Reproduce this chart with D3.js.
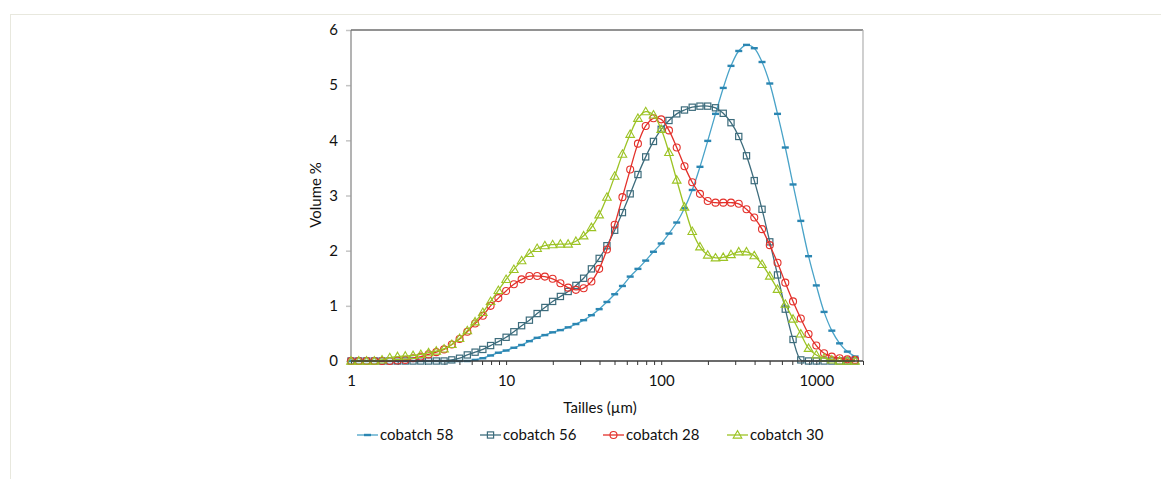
<!DOCTYPE html>
<html><head><meta charset="utf-8">
<script src="https://cdn.jsdelivr.net/npm/d3@7"></script>
<style>
html,body{margin:0;padding:0;background:#fff;}
text{font-family:Lato,"Open Sans",sans-serif;fill:#111;}
</style></head>
<body><svg id="c" width="1161" height="479"></svg>
<script>
const sizes = [1.000,1.122,1.259,1.413,1.585,1.778,1.995,2.239,2.512,2.818,3.162,3.548,3.981,4.467,5.012,5.623,6.310,7.079,7.943,8.913,
10.00,11.22,12.59,14.13,15.85,17.78,19.95,22.39,25.12,28.18,31.62,35.48,39.81,44.67,50.12,56.23,63.10,70.79,79.43,89.13,
100.0,112.2,125.9,141.3,158.5,177.8,199.5,223.9,251.2,281.8,316.2,354.8,398.1,446.7,501.2,562.3,631.0,707.9,794.3,891.3,
1000,1122,1259,1413,1585,1778];

const cobatch58 = [0,0,0,0,0,0,0,0,0,0,0,0,0,0,0,0,0.02,0.05,0.10,0.15,
0.19,0.24,0.29,0.36,0.42,0.47,0.52,0.56,0.61,0.67,0.74,0.83,0.94,1.07,1.21,1.36,1.53,1.67,1.82,1.98,
2.13,2.31,2.51,2.77,3.10,3.52,3.99,4.48,4.95,5.35,5.62,5.73,5.67,5.42,5.03,4.48,3.87,3.20,2.54,1.90,
1.37,0.89,0.55,0.32,0.17,0.08];

const cobatch56 = [0,0,0,0,0,0,0,0,0,0,0,0,0,0.02,0.05,0.11,0.16,0.21,0.28,0.35,
0.43,0.53,0.64,0.74,0.86,0.97,1.08,1.17,1.26,1.37,1.50,1.67,1.86,2.09,2.37,2.69,3.03,3.38,3.70,3.98,
4.20,4.36,4.48,4.55,4.60,4.62,4.62,4.59,4.49,4.32,4.07,3.72,3.27,2.75,2.16,1.56,0.94,0.39,0.02,0,
0,0,0,0,0,0];

const cobatch28 = [0,0,0,0,0,0,0.01,0.02,0.05,0.08,0.12,0.16,0.21,0.30,0.40,0.53,0.68,0.82,1.00,1.14,
1.27,1.39,1.48,1.54,1.54,1.53,1.49,1.41,1.33,1.29,1.32,1.44,1.67,2.02,2.47,2.97,3.47,3.94,4.26,4.40,
4.38,4.18,3.87,3.53,3.24,3.03,2.90,2.87,2.87,2.87,2.85,2.75,2.60,2.39,2.10,1.78,1.42,1.08,0.77,0.49,
0.28,0.14,0.08,0.05,0.03,0.02];

const cobatch30 = [0,0,0,0,0.02,0.06,0.08,0.09,0.10,0.12,0.15,0.18,0.22,0.30,0.41,0.55,0.71,0.88,1.08,1.28,
1.48,1.66,1.82,1.95,2.04,2.09,2.11,2.12,2.12,2.17,2.27,2.42,2.65,2.97,3.35,3.75,4.11,4.40,4.52,4.46,
4.20,3.78,3.28,2.79,2.35,2.07,1.92,1.87,1.88,1.93,1.98,1.98,1.91,1.75,1.54,1.30,1.03,0.76,0.49,0.23,
0.11,0.05,0.02,0,0,0];

const seriesNames = ["cobatch 58","cobatch 56","cobatch 28","cobatch 30"];
const xTickLabels = [1,10,100,1000];
const yTickLabels = [0,1,2,3,4,5,6];

const svg = d3.select("#c");
const W = 1161, H = 479;

// outer faint frame
svg.append("line").attr("x1",10).attr("x2",W).attr("y1",14.5).attr("y2",14.5).attr("stroke","#e8e8de").attr("stroke-width",1);
svg.append("line").attr("x1",10.5).attr("x2",10.5).attr("y1",14).attr("y2",H).attr("stroke","#e8e8de").attr("stroke-width",1);

const x = d3.scaleLog().domain([1,2000]).range([351,863]);
const y = d3.scaleLinear().domain([0,6]).range([361,30]);

// y axis ticks
const yAx = svg.append("g").attr("transform","translate(351,0)")
  .call(d3.axisLeft(y).tickValues(yTickLabels).tickSize(5).tickPadding(8).tickFormat(d3.format("d")));
yAx.select(".domain").remove();
yAx.selectAll("line").attr("stroke","#c4c4c4").attr("stroke-width",1.5);
yAx.selectAll("text").style("font-size","15px").attr("fill","#111");

// x axis ticks
const minor = [];
[1,10,100,1000].forEach(d=>{for(let m=1;m<=9;m++){const v=d*m; if(v<=2000) minor.push(v);}});
const xAx = svg.append("g").attr("transform","translate(0,361)")
  .call(d3.axisBottom(x).tickValues(minor).tickSize(4).tickFormat(""));
xAx.select(".domain").remove();
xAx.selectAll("line").attr("stroke","#333").attr("stroke-width",1);
const xLab = svg.append("g").attr("transform","translate(0,361)")
  .call(d3.axisBottom(x).tickValues(xTickLabels).tickSize(0).tickPadding(14).tickFormat(d3.format("d")));
xLab.select(".domain").remove();
xLab.selectAll("text").style("font-size","15px").attr("fill","#111");

// frame
svg.append("line").attr("x1",351).attr("x2",351).attr("y1",30).attr("y2",361).attr("stroke","#9a9a9a").attr("stroke-width",1.5);
svg.append("line").attr("x1",351).attr("x2",863).attr("y1",30).attr("y2",30).attr("stroke","#6e6e6e").attr("stroke-width",1.5);
svg.append("line").attr("x1",863).attr("x2",863).attr("y1",30).attr("y2",361).attr("stroke","#b0b0b0").attr("stroke-width",1.2);

// axis titles
svg.append("text").attr("x",600).attr("y",413).attr("text-anchor","middle").style("font-size","15px").text("Tailles (µm)");
svg.append("text").attr("transform","translate(321,195) rotate(-90)").attr("text-anchor","middle").style("font-size","15px").text("Volume %");

const cfg = [
  {data:cobatch58, line:"#49a3c8", mk:"#2b86b2", shape:"dash"},
  {data:cobatch56, line:"#3d6c7c", mk:"#3d6c7c", shape:"square"},
  {data:cobatch28, line:"#e3302a", mk:"#e3302a", shape:"circle"},
  {data:cobatch30, line:"#9cc324", mk:"#9cc324", shape:"triangle"}
];

function drawMarker(g, shape, color, cx, cy){
  if(shape==="dash"){
    g.append("rect").attr("x",cx-3.5).attr("y",cy-1.2).attr("width",7).attr("height",2.4).attr("fill",color);
  } else if(shape==="square"){
    g.append("rect").attr("x",cx-3.1).attr("y",cy-3.1).attr("width",6.2).attr("height",6.2).attr("fill","none").attr("stroke",color).attr("stroke-width",1.2);
  } else if(shape==="circle"){
    g.append("circle").attr("cx",cx).attr("cy",cy).attr("r",3.5).attr("fill","none").attr("stroke",color).attr("stroke-width",1.1);
  } else {
    g.append("path").attr("d",d3.symbol(d3.symbolTriangle,32)()).attr("transform",`translate(${cx},${cy+0.6})`).attr("fill","none").attr("stroke",color).attr("stroke-width",1.1);
  }
}

const lineGen = d3.line().x(d=>x(d[0])).y(d=>y(d[1])).curve(d3.curveCatmullRom.alpha(0.5));
const plot = svg.append("g");
cfg.forEach(s=>{
  const pts = sizes.map((v,i)=>[v,s.data[i]]);
  plot.append("path").attr("d",lineGen(pts)).attr("fill","none").attr("stroke",s.line).attr("stroke-width",1.3);
  const mg = plot.append("g");
  pts.forEach(p=>drawMarker(mg,s.shape,s.mk,x(p[0]),y(p[1])));
});

// bottom axis line on top
svg.append("line").attr("x1",351).attr("x2",863).attr("y1",361).attr("y2",361).attr("stroke","#3a3a3a").attr("stroke-width",1.3);

// legend
const legX = [357,480,603,727];
const leg = svg.append("g");
cfg.forEach((s,i)=>{
  const lx = legX[i], ly = 435;
  leg.append("line").attr("x1",lx).attr("x2",lx+21).attr("y1",ly).attr("y2",ly).attr("stroke",s.line).attr("stroke-width",1.3);
  drawMarker(leg, s.shape, s.mk, lx+10.5, ly);
  leg.append("text").attr("x",lx+23).attr("y",ly+5).style("font-size","15px").text(seriesNames[i]);
});
</script></body></html>
